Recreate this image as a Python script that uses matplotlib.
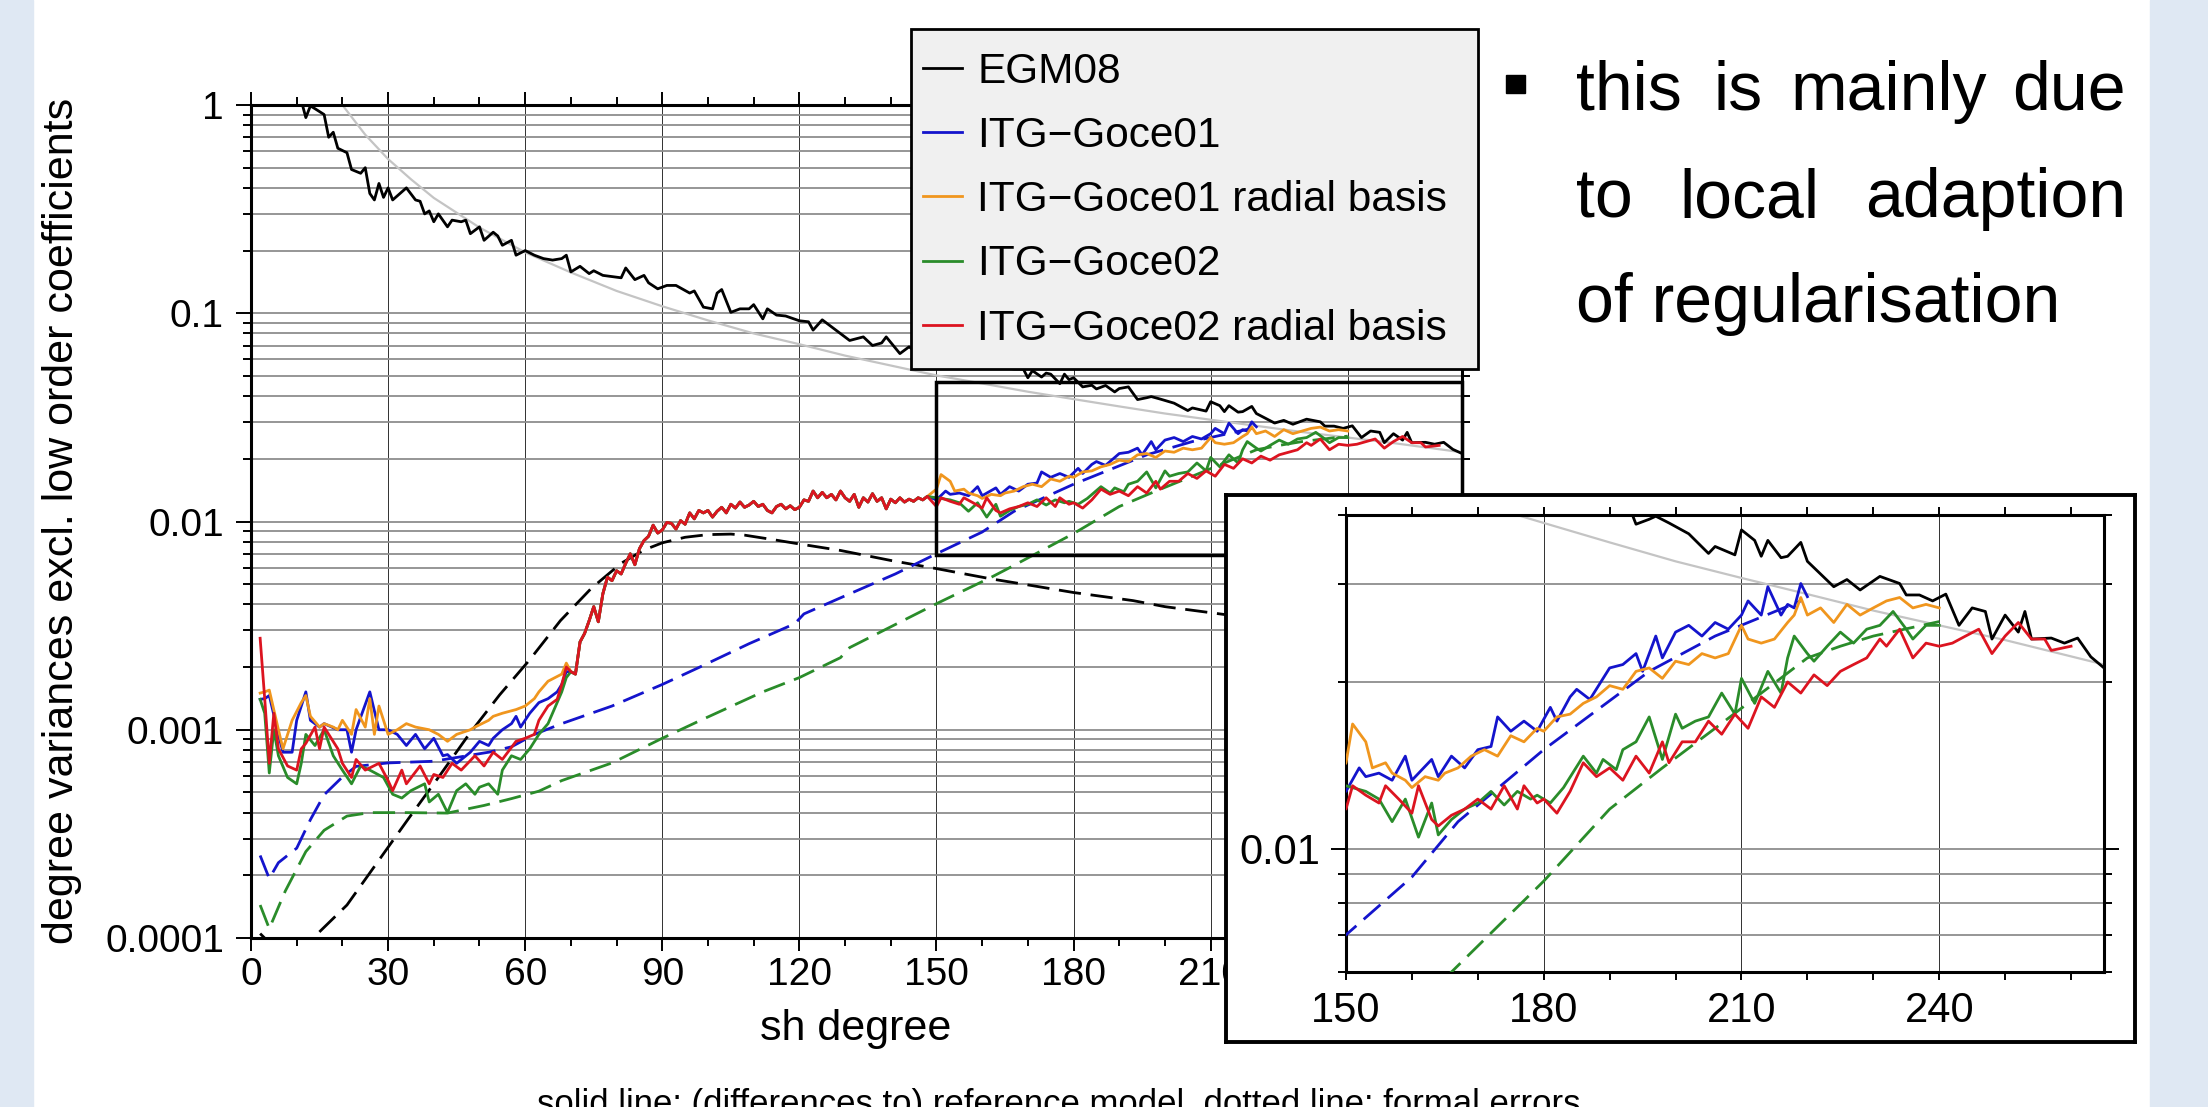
import matplotlib
matplotlib.use('Agg')
import matplotlib.pyplot as plt
from matplotlib.patches import Rectangle
from matplotlib.ticker import FixedLocator, NullFormatter

plt.rcParams['font.family'] = ['Liberation Sans', 'DejaVu Sans']

# ---- data (sh degree vs. degree variance) ----
kaula_deg = [20, 25, 30, 35, 40, 50, 60, 70, 80, 90, 100, 110, 120, 130, 140,
             150, 160, 170, 180, 190, 200, 210, 220, 230, 240, 250, 265]
kaula_val = [1.0, 0.72, 0.55, 0.44, 0.358, 0.258, 0.196, 0.157, 0.128, 0.108,
             0.0924, 0.080, 0.071, 0.0626, 0.0561, 0.0503, 0.046, 0.042, 0.0387,
             0.0357, 0.033, 0.0308, 0.0288, 0.0269, 0.0253, 0.0238, 0.0215]

egm_deg = [11, 12, 13, 14, 16, 17, 18, 19, 21, 22, 24, 25, 26, 27, 28, 29, 30, 31,
           34, 36, 37, 38, 39, 40, 41, 43, 44, 46, 47, 48, 50, 51, 53, 54, 55, 57,
           58, 60, 62, 64, 66, 68, 69, 70, 72, 74, 75, 77, 79, 81, 82, 84, 86, 87,
           89, 91, 93, 96, 97, 99, 101, 102, 103, 105, 107, 109, 110, 112, 113, 115,
           117, 120, 122, 123, 125, 128, 131, 134, 136, 138, 139, 142, 144, 146,
           149, 152, 155, 158, 161, 164, 167, 169, 170, 171, 173, 174, 175, 177,
           178, 179, 180, 182, 184, 185, 187, 189, 190, 192, 194, 196, 197, 199,
           202, 205, 206, 209, 210, 212, 213, 214, 216, 217, 219, 220, 222, 224,
           226, 228, 231, 234, 235, 237, 239, 241, 243, 245, 247, 248, 250, 252,
           253, 254, 257, 259, 261, 263, 265]
egm_val = [1.05, 0.87, 0.99, 0.96, 0.90, 0.70, 0.74, 0.62, 0.59, 0.49, 0.47, 0.50,
           0.376, 0.35, 0.42, 0.36, 0.40, 0.35, 0.40, 0.35, 0.345, 0.30, 0.31,
           0.275, 0.30, 0.26, 0.28, 0.275, 0.28, 0.241, 0.26, 0.224, 0.245, 0.235,
           0.212, 0.224, 0.19, 0.20, 0.19, 0.183, 0.18, 0.183, 0.19, 0.158, 0.168,
           0.155, 0.16, 0.152, 0.15, 0.148, 0.165, 0.145, 0.152, 0.14, 0.131,
           0.136, 0.136, 0.125, 0.128, 0.107, 0.105, 0.125, 0.13, 0.101, 0.105,
           0.105, 0.11, 0.094, 0.105, 0.098, 0.097, 0.092, 0.091, 0.083, 0.093,
           0.083, 0.074, 0.077, 0.070, 0.072, 0.077, 0.064, 0.069, 0.064, 0.062,
           0.060, 0.059, 0.055, 0.057, 0.055, 0.054, 0.054, 0.049, 0.053, 0.0494,
           0.0516, 0.051, 0.0459, 0.051, 0.048, 0.049, 0.0443, 0.0451, 0.0433,
           0.045, 0.0419, 0.0435, 0.0443, 0.0385, 0.0393, 0.0398, 0.0387, 0.0370,
           0.0341, 0.0351, 0.0339, 0.0376, 0.036, 0.0337, 0.036, 0.0335, 0.0337,
           0.0357, 0.033, 0.0313, 0.0297, 0.0306, 0.0293, 0.031, 0.0301, 0.0287,
           0.0287, 0.028, 0.0288, 0.0253, 0.0272, 0.0268, 0.0239, 0.0264, 0.0246,
           0.0268, 0.0239, 0.024, 0.0235, 0.024, 0.0222, 0.0212]

# formal errors (dashed)
egm_err_deg = [2, 4, 8, 13.6, 21, 27.6, 34.3, 41, 47.7, 54.4, 61, 67.7, 74.4, 81,
               86, 90, 95, 100, 105, 108, 114, 120, 129, 140, 150, 162, 171, 180,
               193, 200, 212, 225, 240, 265]
egm_err_val = [1.05e-4, 9.5e-5, 7e-5, 1e-4, 1.44e-4, 2.3e-4, 3.7e-4, 5.9e-4, 9.5e-4,
               1.47e-3, 2.17e-3, 3.34e-3, 4.76e-3, 6.3e-3, 7.3e-3, 7.9e-3, 8.4e-3,
               8.65e-3, 8.7e-3, 8.6e-3, 8.2e-3, 7.8e-3, 7.26e-3, 6.5e-3, 5.94e-3,
               5.3e-3, 4.92e-3, 4.56e-3, 4.17e-3, 3.9e-3, 3.6e-3, 3.3e-3, 3.0e-3,
               2.6e-3]
g01_err_deg = [2, 4, 6, 10, 13, 16, 20, 23, 30, 40, 45, 52, 57, 62, 68, 79, 90, 98,
               109, 119, 121, 129, 141, 150, 160, 167, 180, 196, 206, 219]
g01_err_val = [2.49e-4, 1.93e-4, 2.3e-4, 2.7e-4, 3.7e-4, 4.87e-4, 5.93e-4, 6.67e-4,
               6.93e-4, 7.06e-4, 7.36e-4, 7.8e-4, 8.28e-4, 9.5e-4, 1.07e-3, 1.3e-3,
               1.65e-3, 1.99e-3, 2.59e-3, 3.23e-3, 3.6e-3, 4.3e-3, 5.6e-3, 7.0e-3,
               8.9e-3, 1.12e-2, 1.51e-2, 2.09e-2, 2.42e-2, 2.8e-2]
g02_err_deg = [2, 4, 7.5, 12, 16, 21, 26, 34, 43, 51, 57, 63, 68, 79, 90, 98, 112,
               120, 129, 131, 150, 162, 166, 180, 190, 198, 206, 220, 225, 230, 240]
g02_err_val = [1.44e-4, 1.11e-4, 1.68e-4, 2.6e-4, 3.29e-4, 3.85e-4, 4.0e-4, 4.0e-4,
               3.98e-4, 4.33e-4, 4.67e-4, 5.07e-4, 5.7e-4, 6.93e-4, 9.1e-4, 1.1e-3,
               1.52e-3, 1.78e-3, 2.22e-3, 2.48e-3, 4.03e-3, 5.4e-3, 6.0e-3, 8.75e-3,
               1.18e-2, 1.40e-2, 1.65e-2, 2.21e-2, 2.32e-2, 2.42e-2, 2.57e-2]

# degrees 70..148: the four solutions lie on top of each other
shared_deg = list(range(70, 149))
shared_val = [1.9e-3, 1.85e-3, 2.64e-3, 2.9e-3, 3.34e-3, 3.9e-3, 3.3e-3, 4.5e-3, 5.4e-3, 5.2e-3,
              5.8e-3, 5.6e-3, 6.3e-3, 7.0e-3, 6.2e-3, 7.4e-3, 8.1e-3, 8.5e-3, 9.6e-3, 8.8e-3,
              9.1e-3, 9.9e-3, 9.8e-3, 9.2e-3, 1.01e-2, 9.7e-3, 1.1e-2, 1.03e-2, 1.13e-2, 1.1e-2,
              1.13e-2, 1.05e-2, 1.12e-2, 1.17e-2, 1.1e-2, 1.21e-2, 1.16e-2, 1.24e-2, 1.17e-2, 1.2e-2,
              1.25e-2, 1.18e-2, 1.21e-2, 1.13e-2, 1.1e-2, 1.18e-2, 1.21e-2, 1.15e-2, 1.19e-2, 1.14e-2,
              1.17e-2, 1.27e-2, 1.25e-2, 1.4e-2, 1.3e-2, 1.38e-2, 1.3e-2, 1.35e-2, 1.27e-2, 1.4e-2,
              1.3e-2, 1.25e-2, 1.35e-2, 1.17e-2, 1.3e-2, 1.24e-2, 1.36e-2, 1.25e-2, 1.3e-2, 1.15e-2,
              1.28e-2, 1.23e-2, 1.3e-2, 1.24e-2, 1.28e-2, 1.25e-2, 1.3e-2, 1.27e-2, 1.32e-2]

g01_lo_deg = [2, 3, 4, 6, 7, 9, 10, 12, 13, 15, 16, 19, 21, 22, 23, 26, 28, 30, 32, 34,
              36, 38, 40, 42, 43, 45, 48, 50, 52, 53, 55, 57, 58, 59, 61, 63, 65, 67, 68, 69]
g01_lo_val = [1.4e-3, 1.41e-3, 1.46e-3, 9.5e-4, 7.8e-4, 7.8e-4, 1.11e-3, 1.52e-3, 1.11e-3,
              1.03e-3, 1.07e-3, 1.0e-3, 1.0e-3, 7.8e-4, 1.0e-3, 1.52e-3, 1.0e-3, 1.0e-3,
              9.5e-4, 8.4e-4, 9.5e-4, 8.1e-4, 9.1e-4, 7.5e-4, 7.6e-4, 6.9e-4, 7.8e-4,
              8.8e-4, 8.4e-4, 9.1e-4, 1.0e-3, 1.07e-3, 1.16e-3, 1.03e-3, 1.2e-3, 1.35e-3,
              1.41e-3, 1.52e-3, 1.65e-3, 1.9e-3]
g01_hi_deg = [150, 152, 153, 155, 157, 159, 160, 163, 164, 166, 168, 170, 172, 173, 175,
              177, 179, 181, 182, 184, 185, 187, 189, 190, 192, 194, 195, 197, 198, 200,
              202, 204, 206, 208, 210, 211, 213, 214, 216, 217, 218, 219, 220]
g01_hi_val = [0.0127, 0.014, 0.0135, 0.0137, 0.0133, 0.0147, 0.0133, 0.0145, 0.0135,
              0.0147, 0.014, 0.0151, 0.0153, 0.0173, 0.0163, 0.017, 0.0163, 0.018, 0.017,
              0.0188, 0.0194, 0.0186, 0.0203, 0.0212, 0.0215, 0.0225, 0.0209, 0.0242,
              0.0221, 0.0246, 0.0253, 0.0242, 0.0256, 0.0249, 0.0264, 0.028, 0.0264,
              0.0297, 0.0264, 0.0276, 0.0272, 0.0301, 0.0285]

g01rb_lo_deg = [2, 3, 4, 6, 7, 9, 11, 12, 13, 15, 16, 18, 19, 20, 22, 23, 25, 26, 27, 28,
                30, 32, 34, 36, 39, 41, 43, 45, 48, 49, 52, 53, 55, 58, 60, 62, 63, 65,
                68, 69]
g01rb_lo_val = [1.5e-3, 1.52e-3, 1.55e-3, 1.0e-3, 8.1e-4, 1.11e-3, 1.35e-3, 1.46e-3,
                1.16e-3, 1.03e-3, 1.07e-3, 1.03e-3, 1.0e-3, 1.11e-3, 9.5e-4, 1.25e-3,
                1.03e-3, 1.41e-3, 9.5e-4, 1.3e-3, 9.5e-4, 1.0e-3, 1.07e-3, 1.03e-3,
                1.0e-3, 9.5e-4, 8.8e-4, 9.5e-4, 1.0e-3, 1.03e-3, 1.11e-3, 1.16e-3,
                1.2e-3, 1.25e-3, 1.3e-3, 1.41e-3, 1.52e-3, 1.71e-3, 1.85e-3, 2.09e-3]
g01rb_hi_deg = [150, 151, 153, 154, 156, 157, 159, 160, 162, 164, 165, 167, 169, 171,
                173, 175, 177, 179, 180, 182, 184, 186, 188, 190, 192, 194, 196, 198,
                200, 202, 204, 206, 208, 210, 211, 213, 215, 217, 218, 219, 220, 222,
                224, 226, 228, 230, 232, 234, 236, 238, 240]
g01rb_hi_val = [0.0143, 0.0168, 0.0156, 0.014, 0.0143, 0.0137, 0.0133, 0.0129, 0.0135,
                0.0133, 0.0137, 0.014, 0.0147, 0.0151, 0.0147, 0.016, 0.0156, 0.0165,
                0.0163, 0.0173, 0.0175, 0.0183, 0.0188, 0.0197, 0.0194, 0.0209, 0.0212,
                0.0203, 0.0218, 0.0215, 0.0225, 0.0221, 0.0225, 0.0253, 0.0239, 0.0235,
                0.0239, 0.0256, 0.0264, 0.0284, 0.0264, 0.0272, 0.0256, 0.0276, 0.0264,
                0.0272, 0.028, 0.0284, 0.0272, 0.0276, 0.0272]

g02_lo_deg = [2, 3, 4, 5, 6, 8, 10, 11, 12, 14, 16, 18, 20, 22, 24, 26, 29, 31, 33, 35,
              38, 39, 41, 43, 45, 47, 49, 50, 52, 54, 55, 57, 59, 61, 63, 65, 67, 68, 69]
g02_lo_val = [1.4e-3, 1.2e-3, 6.2e-4, 1.0e-3, 7.5e-4, 5.9e-4, 5.5e-4, 6.9e-4, 9.5e-4,
              8.4e-4, 1.0e-3, 7.5e-4, 6.4e-4, 5.5e-4, 6.7e-4, 6.4e-4, 5.9e-4, 4.9e-4,
              4.7e-4, 5.1e-4, 5.5e-4, 4.5e-4, 4.9e-4, 4.0e-4, 5.1e-4, 5.5e-4, 4.9e-4,
              5.3e-4, 5.5e-4, 4.9e-4, 6.4e-4, 7.5e-4, 7.2e-4, 8.1e-4, 9.5e-4, 1.07e-3,
              1.35e-3, 1.52e-3, 1.78e-3]
g02_hi_deg = [150, 151, 153, 155, 157, 159, 161, 163, 164, 166, 168, 170, 172, 174, 176,
              178, 179, 181, 183, 186, 188, 189, 191, 192, 194, 196, 198, 200, 201, 203,
              205, 207, 209, 210, 212, 214, 216, 217, 218, 220, 221, 223, 225, 227, 229,
              231, 233, 235, 236, 238, 240]
g02_hi_val = [0.013, 0.0129, 0.0127, 0.0123, 0.0112, 0.0123, 0.0105, 0.0121, 0.0106,
              0.0113, 0.0118, 0.0121, 0.0127, 0.012, 0.0127, 0.0123, 0.0125, 0.0121,
              0.0129, 0.0147, 0.0137, 0.0145, 0.0139, 0.0151, 0.0156, 0.0173, 0.0145,
              0.0175, 0.0165, 0.017, 0.0173, 0.0191, 0.0175, 0.0203, 0.0183, 0.0209,
              0.0191, 0.0221, 0.0242, 0.0225, 0.0218, 0.0232, 0.0246, 0.0235, 0.0249,
              0.0253, 0.0268, 0.0249, 0.0239, 0.0253, 0.0253]

g02rb_lo_deg = [2, 3, 4, 5, 6, 8, 10, 11, 12, 14, 15, 16, 19, 20, 22, 23, 25, 28, 30, 31,
                33, 34, 37, 39, 40, 42, 44, 46, 49, 51, 53, 55, 58, 60, 62, 63, 65, 67,
                68, 69]
g02rb_lo_val = [2.75e-3, 1.41e-3, 6.9e-4, 1.2e-3, 8.1e-4, 6.7e-4, 6.4e-4, 8.1e-4, 8.6e-4,
                1.03e-3, 8.1e-4, 1.03e-3, 8.1e-4, 6.9e-4, 5.9e-4, 7.2e-4, 6.4e-4, 6.9e-4,
                5.7e-4, 5.1e-4, 6.4e-4, 5.5e-4, 6.7e-4, 5.5e-4, 6.1e-4, 5.9e-4, 6.9e-4,
                6.4e-4, 7.5e-4, 6.7e-4, 7.8e-4, 7.2e-4, 8.8e-4, 9.1e-4, 9.5e-4, 1.11e-3,
                1.3e-3, 1.4e-3, 1.65e-3, 2.0e-3]
g02rb_hi_deg = [150, 151, 153, 155, 156, 158, 160, 161, 163, 164, 166, 168, 170, 172,
                174, 176, 177, 179, 180, 182, 184, 186, 188, 190, 192, 194, 196, 198,
                199, 201, 203, 205, 207, 209, 211, 213, 215, 217, 219, 221, 223, 225,
                227, 229, 231, 232, 234, 236, 238, 240, 242, 244, 246, 248, 250, 252,
                254, 256, 257, 260]
g02rb_hi_val = [0.0118, 0.013, 0.0125, 0.0121, 0.013, 0.0123, 0.0116, 0.013, 0.0113,
                0.011, 0.0115, 0.0118, 0.0123, 0.0118, 0.013, 0.0118, 0.013, 0.0121,
                0.0123, 0.0116, 0.0127, 0.0143, 0.0135, 0.014, 0.0133, 0.0147, 0.0137,
                0.0156, 0.0143, 0.0156, 0.0156, 0.017, 0.0161, 0.0175, 0.0165, 0.0188,
                0.018, 0.02, 0.0191, 0.0206, 0.0197, 0.0209, 0.0215, 0.0221, 0.0239,
                0.0232, 0.0249, 0.0221, 0.0235, 0.0232, 0.0235, 0.0242, 0.0249, 0.0225,
                0.0242, 0.0256, 0.0239, 0.0239, 0.0228, 0.0232]

labels = ['EGM08', 'ITG\u2212Goce01', 'ITG\u2212Goce01 radial basis',
          'ITG\u2212Goce02', 'ITG\u2212Goce02 radial basis']
colors = ['black', '#1414cc', '#f0961e', '#2a8c2a', '#dc1420']

W, H = 2208, 1107


def fx(px):
    return px / W


def fy(py):
    return 1 - py / H


def box(x0, y0, x1, y1):
    return [fx(x0), fy(y1), (x1 - x0) / W, (y1 - y0) / H]


def draw(a):
    dash = (0, (8, 3.5))
    a.plot(kaula_deg, kaula_val, color='#c4c4c4', lw=1.6, zorder=2)
    a.plot(egm_err_deg, egm_err_val, color=colors[0], ls=dash, lw=2.0, zorder=3)
    a.plot(g01_err_deg, g01_err_val, color=colors[1], ls=dash, lw=2.0, zorder=3)
    a.plot(g02_err_deg, g02_err_val, color=colors[3], ls=dash, lw=2.0, zorder=3)
    series = [
        (egm_deg, egm_val),
        (g01_lo_deg + shared_deg + g01_hi_deg, g01_lo_val + shared_val + g01_hi_val),
        (g01rb_lo_deg + shared_deg + g01rb_hi_deg, g01rb_lo_val + shared_val + g01rb_hi_val),
        (g02_lo_deg + shared_deg + g02_hi_deg, g02_lo_val + shared_val + g02_hi_val),
        (g02rb_lo_deg + shared_deg + g02rb_hi_deg, g02rb_lo_val + shared_val + g02rb_hi_val),
    ]
    hs = []
    for (d, v), c, lab in zip(series, colors, labels):
        h, = a.plot(d, v, color=c, lw=2.0, zorder=4, label=lab)
        hs.append(h)
    return hs


def style(a, size):
    a.set_yscale('log')
    a.set_axisbelow(True)
    a.grid(axis='y', which='both', color='#8e8e8e', lw=1.3)
    a.grid(axis='x', which='major', color='#303030', lw=0.7)
    a.tick_params(which='both', direction='out', top=True, right=True,
                  labelsize=size, width=1.4, color='black')
    for s in a.spines.values():
        s.set_linewidth(2.2)


fig = plt.figure(figsize=(W / 100, H / 100), dpi=100)
fig.patch.set_facecolor('white')
fig.patches.append(Rectangle((0, 0), fx(33), 1, transform=fig.transFigure,
                             color='#dfe8f3', zorder=0))
fig.patches.append(Rectangle((fx(2150), 0), 1 - fx(2150), 1, transform=fig.transFigure,
                             color='#dfe8f3', zorder=0))

# main chart
ax = fig.add_axes(box(251, 105, 1462, 938))
handles = draw(ax)
style(ax, 28)
ax.set_xlim(0, 265)
ax.set_ylim(1e-4, 1)
ax.set_xticks(range(0, 241, 30))
ax.xaxis.set_minor_locator(FixedLocator(range(0, 266, 10)))
ax.set_yticks([1e-4, 1e-3, 1e-2, 1e-1, 1])
ax.set_yticklabels(['0.0001', '0.001', '0.01', '0.1', '1'])
ax.yaxis.set_minor_locator(FixedLocator([m * 10.0 ** e for e in range(-4, 0)
                                         for m in range(2, 10)]))
ax.yaxis.set_minor_formatter(NullFormatter())
ax.tick_params(axis='y', which='major', length=10.5, pad=9)
ax.tick_params(axis='y', which='minor', length=5.8)
ax.tick_params(axis='x', which='major', length=9.5, pad=4)
ax.tick_params(axis='x', which='minor', length=5.8)
ax.add_patch(Rectangle((150, 0.0069), 115, 0.047 - 0.0069, fill=False, ec='black',
                       lw=2.5, zorder=10, clip_on=False))

fig.text(fx(62), fy(521), 'degree variances excl. low order coefficients',
         rotation=90, ha='center', va='center', fontsize=31)
fig.text(fx(856), fy(1040), 'sh degree', ha='center', va='baseline', fontsize=31)

# legend: grey box drawn separately so its padding can follow the slide
fig.patches.append(Rectangle((fx(911), fy(369)), (1478 - 911) / W, (369 - 29) / H,
                             transform=fig.transFigure, facecolor='#f0f0f0',
                             edgecolor='black', lw=2.0, zorder=4))
leg = fig.legend(handles, labels, loc='upper left', bbox_to_anchor=(fx(923), fy(52)),
                 bbox_transform=fig.transFigure, fontsize=30.5, frameon=False,
                 borderpad=0, labelspacing=0.57, handlelength=0.92, handletextpad=0.36,
                 borderaxespad=0)
leg.set_zorder(5)

# zoomed inset
frame = fig.add_axes(box(1226, 495, 2135, 1042), zorder=6)
frame.set_xticks([])
frame.set_yticks([])
for s in frame.spines.values():
    s.set_linewidth(2.8)

ins = fig.add_axes(box(1346, 515, 2104, 972), zorder=7)
draw(ins)
style(ins, 30)
ins.set_xlim(150, 265)
ins.set_ylim(0.006, 0.04)
ins.set_xticks([150, 180, 210, 240])
ins.xaxis.set_minor_locator(FixedLocator(range(150, 266, 10)))
ins.set_yticks([0.01])
ins.set_yticklabels(['0.01'])
ins.yaxis.set_minor_locator(FixedLocator([0.006, 0.007, 0.008, 0.009, 0.02, 0.03, 0.04]))
ins.yaxis.set_minor_formatter(NullFormatter())
ins.tick_params(axis='y', which='major', length=10.5, pad=8)
ins.tick_params(axis='y', which='minor', length=5.8)
ins.tick_params(axis='x', which='both', length=6, pad=8)

# slide text
fig.patches.append(Rectangle((fx(1506), fy(93)), 19 / W, 18 / H, transform=fig.transFigure,
                             color='black'))
words = [('this', 1576, 110, 'left'), ('is', 1713, 110, 'left'),
         ('mainly', 1790, 110, 'left'), ('due', 2126, 110, 'right'),
         ('to', 1576, 217, 'left'), ('local', 1679, 217, 'left'),
         ('adaption', 2126, 217, 'right'), ('of regularisation', 1576, 322, 'left')]
for w, x, y, ha in words:
    fig.text(fx(x), fy(y), w, ha=ha, va='baseline', fontsize=49)

fig.text(fx(1059), fy(1088),
         'solid line: (differences to) reference model, dotted line: formal errors',
         ha='center', va='top', fontsize=25)

fig.savefig('out.png', dpi=100, facecolor='white')
